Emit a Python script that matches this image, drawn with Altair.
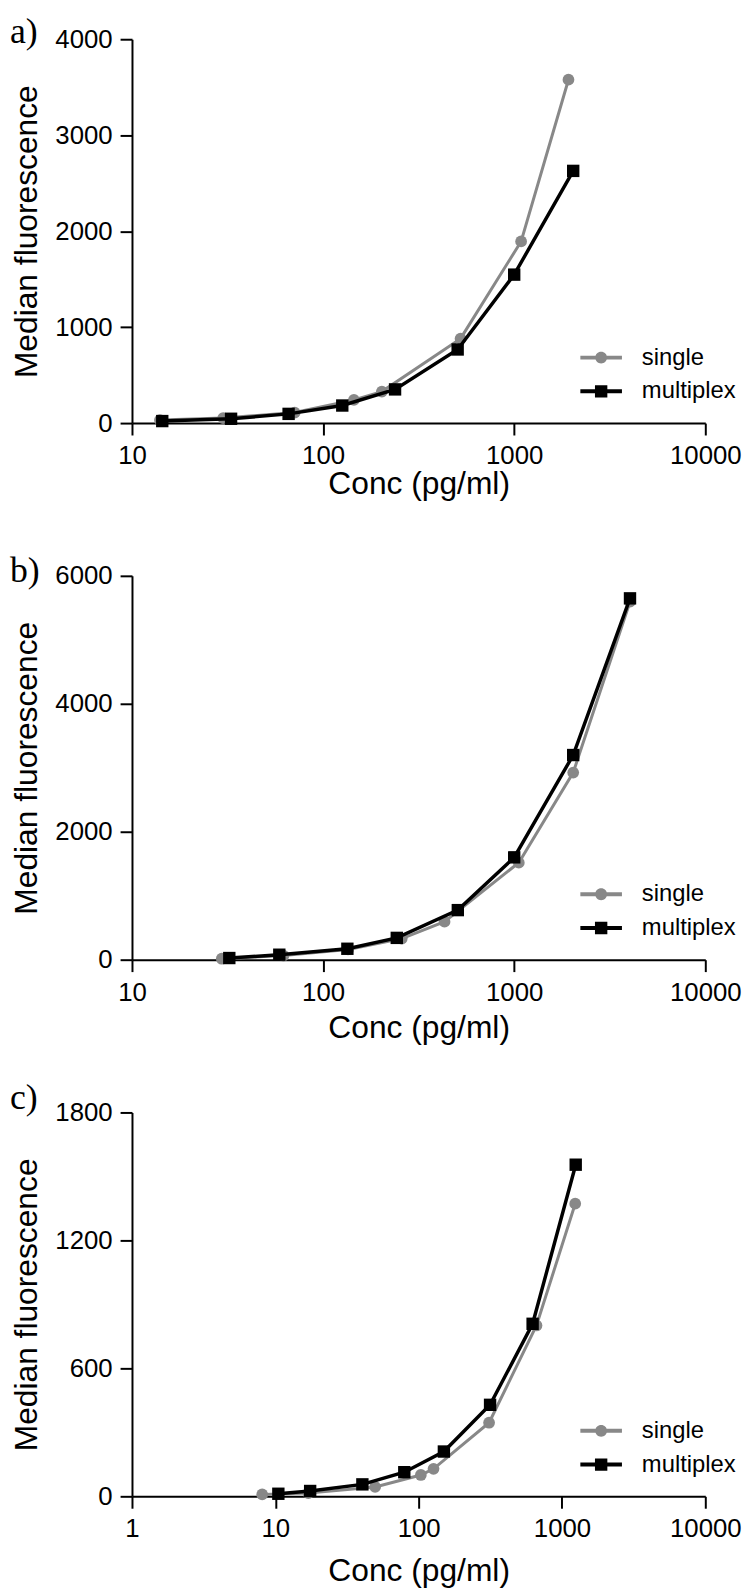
import altair as alt
import pandas as pd

GRAY = "#888888"
BLACK = "#000000"

series_names = ["single", "multiplex"]
panel_labels = ["a)", "b)", "c)"]

# Panel a
a_single_conc = [14, 30, 71, 145, 203, 524, 1087, 1923]
a_single_fluor = [31, 52, 110, 241, 328, 880, 1893, 3578]
a_multi_conc = [14.4, 33, 66, 126, 238, 506, 1000, 2036]
a_multi_fluor = [21, 45, 96, 183, 351, 767, 1547, 2628]

# Panel b
b_single_conc = [29.5, 62, 135, 258, 432, 1057, 2036, 4036]
b_single_fluor = [15, 65, 160, 330, 594, 1517, 2925, 5596]
b_multi_conc = [32.3, 59, 134, 243, 507, 1000, 2036, 4036]
b_multi_fluor = [26, 78, 171, 341, 775, 1600, 3199, 5648]

# Panel c
c_single_conc = [8.1, 17, 49.7, 103.6, 127, 310, 664, 1237]
c_single_fluor = [9, 15, 44, 100, 129, 345, 801, 1372]
c_multi_conc = [10.5, 17.5, 40.5, 79.4, 150, 315, 624, 1247]
c_multi_fluor = [12, 25, 56, 113, 210, 429, 809, 1555]

a_yticks = [0, 1000, 2000, 3000, 4000]
b_yticks = [0, 2000, 4000, 6000]
c_yticks = [0, 600, 1200, 1800]
ab_xticks = [10, 100, 1000, 10000]
c_xticks = [1, 10, 100, 1000, 10000]

# legend symbols: short line with a marker in the middle
P_CIRCLE = ("M-1.31,-0.125 L1.31,-0.125 L1.31,0.125 L-1.31,0.125 Z "
            "M-0.375,0 A0.375,0.375 0 1,1 0.375,0 A0.375,0.375 0 1,1 -0.375,0 Z")
P_SQUARE = ("M-1.31,-0.125 L1.31,-0.125 L1.31,0.125 L-1.31,0.125 Z "
            "M-0.39,-0.39 L0.39,-0.39 L0.39,0.39 L-0.39,0.39 Z")


def make_legend():
    return alt.Legend(
        title=None, orient="none", legendX=457, legendY=305,
        symbolSize=1024, symbolOpacity=1, symbolStrokeWidth=0,
        labelFont="Liberation Sans", labelFontSize=24, labelColor="black",
        labelOffset=25, padding=0, rowPadding=6,
    )


def panel(label, sx, sy, mx, my, xticks, yticks, title_pad, label_y):
    df = pd.DataFrame({
        "conc": sx + mx,
        "fluor": sy + my,
        "series": ["single"] * len(sx) + ["multiplex"] * len(mx),
    })
    x = alt.X("conc:Q",
              scale=alt.Scale(type="log", domain=[xticks[0], xticks[-1]], nice=False),
              axis=alt.Axis(values=xticks, format="d", title="Conc (pg/ml)",
                            titlePadding=title_pad))
    y = alt.Y("fluor:Q",
              scale=alt.Scale(domain=[yticks[0], yticks[-1]], nice=False),
              axis=alt.Axis(values=yticks, format="d", title="Median fluorescence",
                            titlePadding=11))
    base = alt.Chart(df).encode(x=x, y=y)
    single = base.transform_filter(alt.datum.series == "single")
    multi = base.transform_filter(alt.datum.series == "multiplex")
    legend_layer = base.mark_point(filled=True, opacity=0).encode(
        color=alt.Color("series:N",
                        scale=alt.Scale(domain=series_names, range=[GRAY, BLACK]),
                        legend=make_legend()),
        shape=alt.Shape("series:N",
                        scale=alt.Scale(domain=series_names, range=[P_CIRCLE, P_SQUARE]),
                        legend=make_legend()),
    )
    label_layer = alt.Chart(pd.DataFrame({"label": [label]})).mark_text(
        font="Liberation Serif", fontSize=36, align="left", baseline="alphabetic",
        color="black",
    ).encode(text="label:N", x=alt.value(-123), y=alt.value(label_y))
    return alt.layer(
        single.mark_line(color=GRAY, strokeWidth=3),
        single.mark_point(shape="circle", filled=True, size=140, color=GRAY, opacity=1),
        multi.mark_line(color=BLACK, strokeWidth=3.5),
        multi.mark_point(shape="square", filled=True, size=156, color=BLACK, opacity=1),
        legend_layer,
        label_layer,
    ).properties(width=578, height=387)


pa = panel(panel_labels[0], a_single_conc, a_single_fluor, a_multi_conc, a_multi_fluor,
           ab_xticks, a_yticks, 0, 4)
pb = panel(panel_labels[1], b_single_conc, b_single_fluor, b_multi_conc, b_multi_fluor,
           ab_xticks, b_yticks, 7, 6)
pc = panel(panel_labels[2], c_single_conc, c_single_fluor, c_multi_conc, c_multi_fluor,
           c_xticks, c_yticks, 14, -3)

chart = alt.vconcat(pa, pb, pc, spacing=154, bounds="flush").properties(
    padding={"left": 2, "top": 0, "right": 0, "bottom": 0}
).resolve_scale(
    x="independent", y="independent", color="independent", shape="independent"
).resolve_legend(
    color="independent", shape="independent"
).configure_view(
    stroke=None
).configure_axis(
    grid=False, domainColor="black", domainWidth=2, tickColor="black", tickWidth=2,
    tickSize=12, labelFont="Liberation Sans", labelFontSize=26, labelColor="black",
    labelPadding=8, labelFlush=False, labelOverlap=False,
    titleFont="Liberation Sans", titleFontSize=32, titleFontWeight="normal",
    titleColor="black",
)

chart.save("out.html", embed_options={"renderer": "svg", "actions": False})
